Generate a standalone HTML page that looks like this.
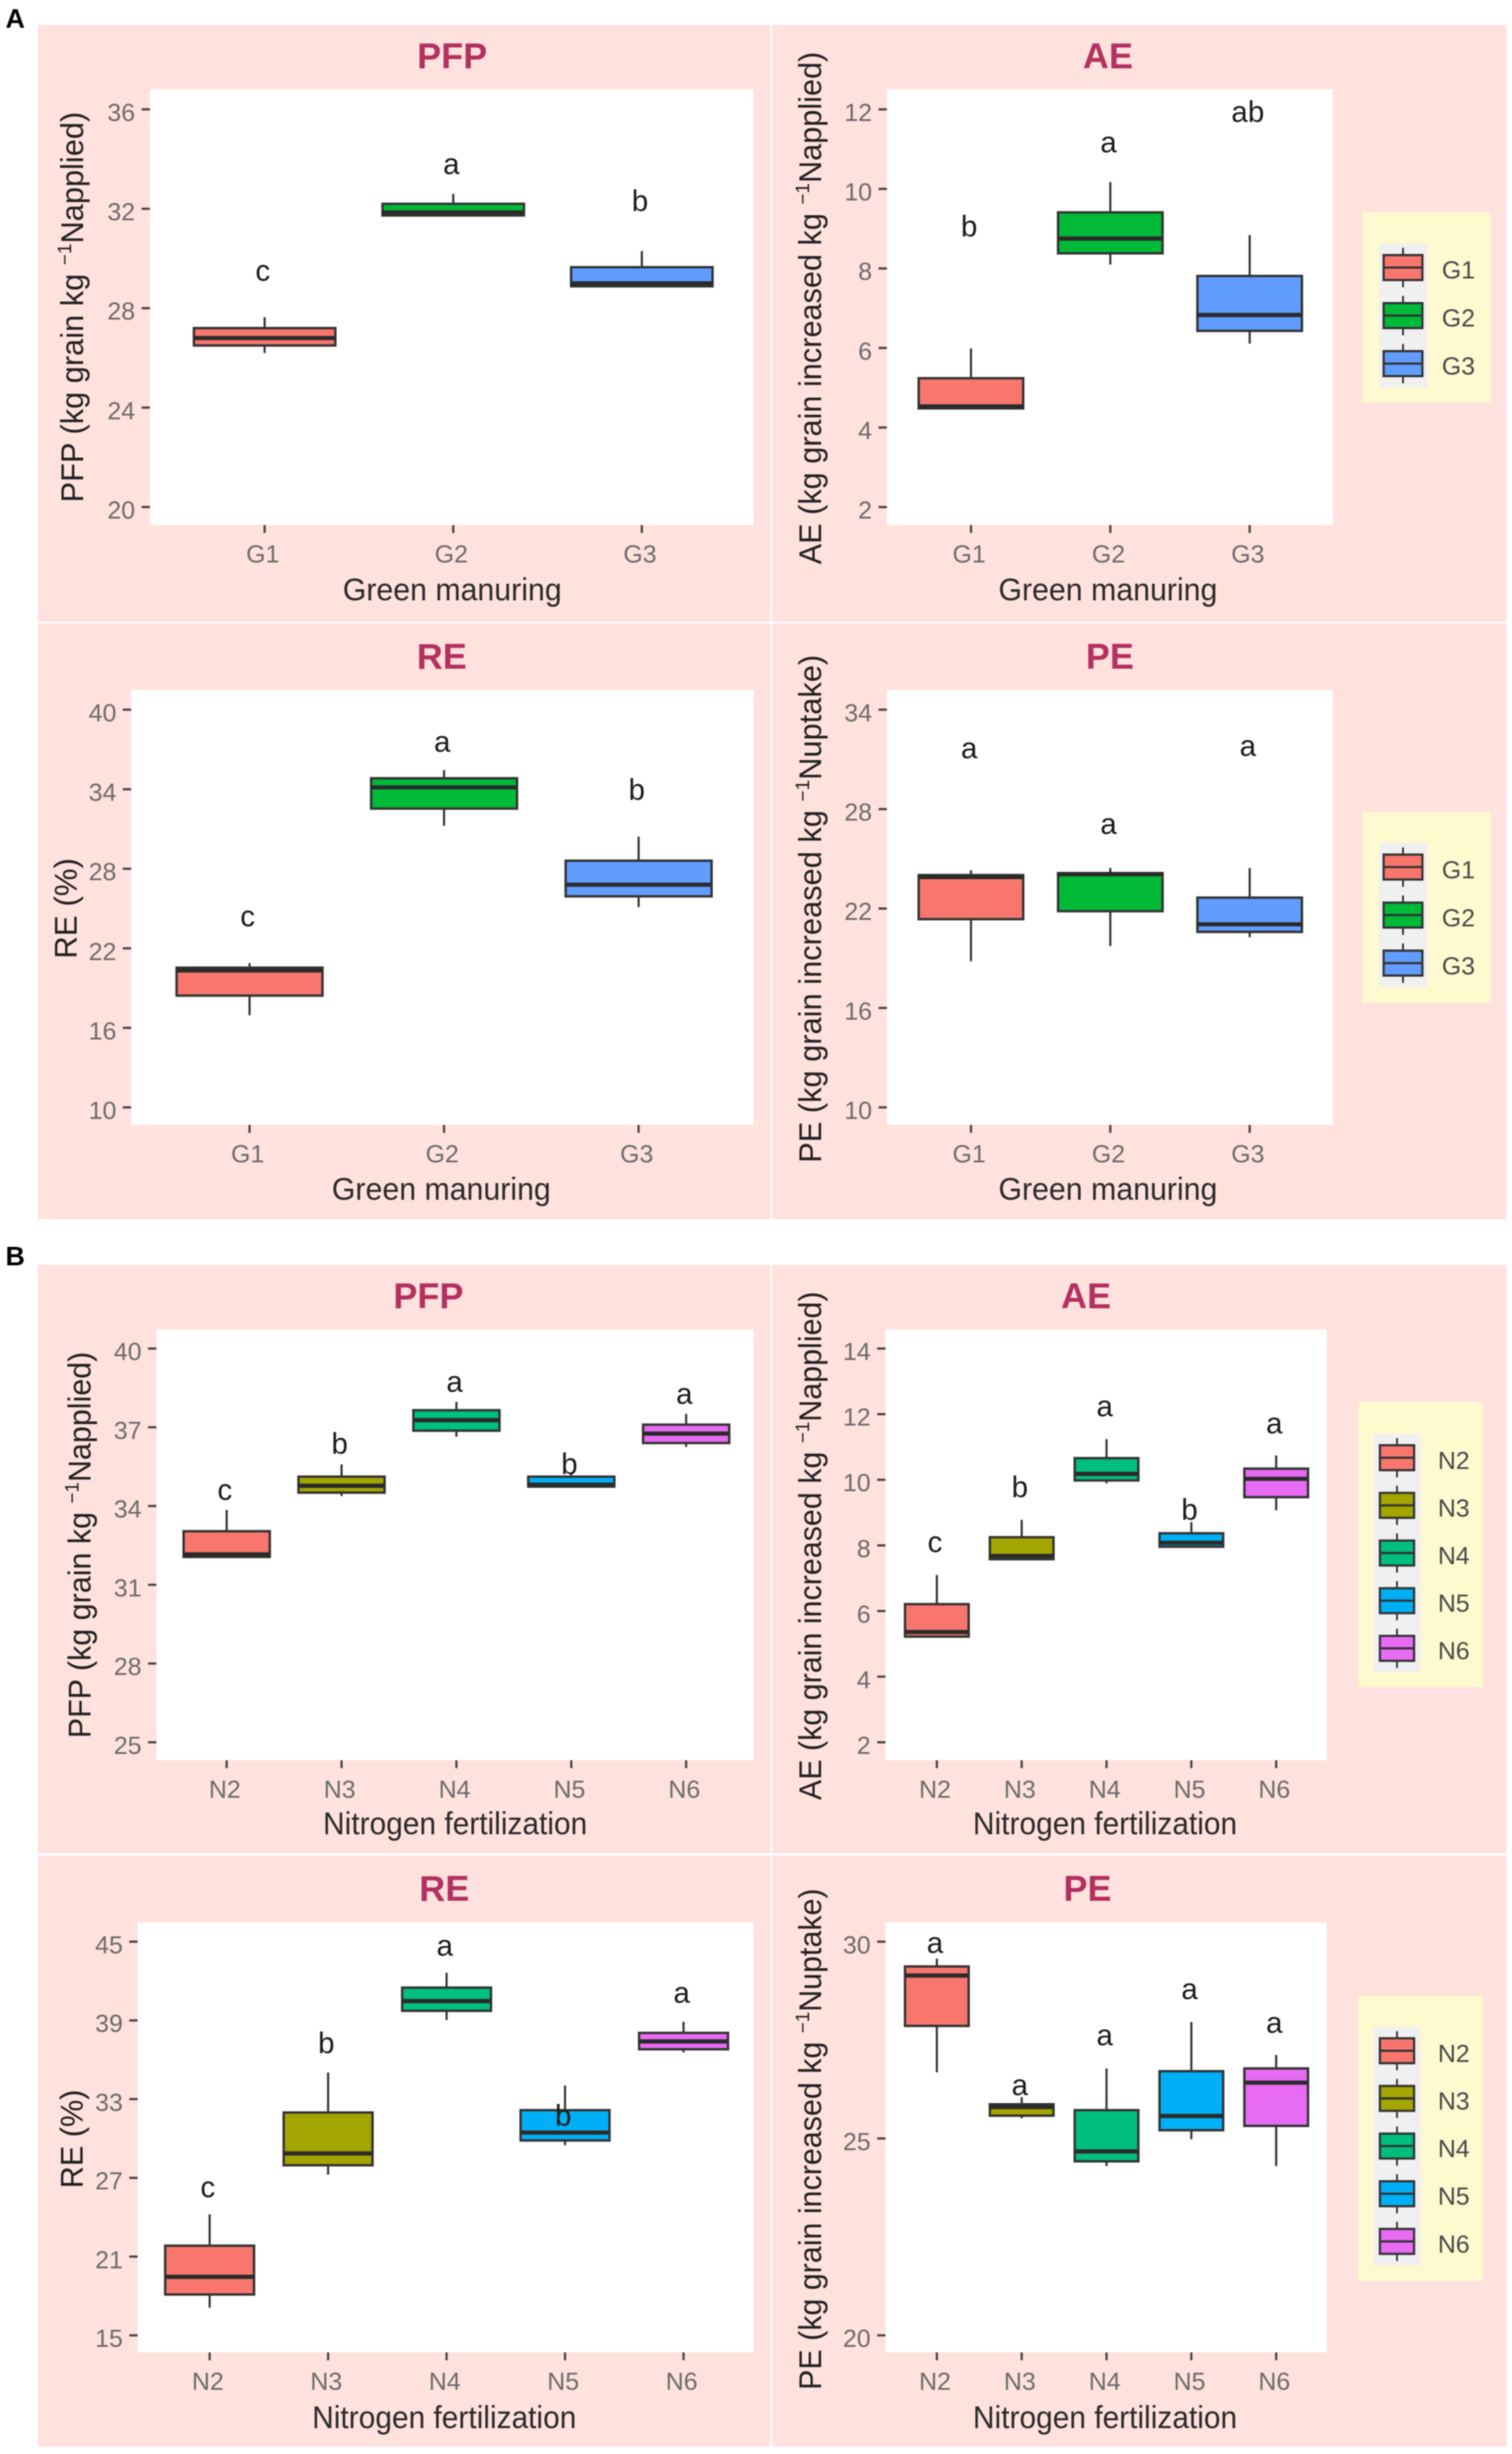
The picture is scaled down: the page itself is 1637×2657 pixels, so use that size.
<!DOCTYPE html>
<html lang="en">
<head>
<meta charset="utf-8">
<title>Nitrogen use efficiency box plots</title>
<style>
html,body{margin:0;padding:0;background:#fff;}
svg{display:block;filter:blur(.6px);font-family:"Liberation Sans",Arial,sans-serif;}
.panel{fill:#FFE1DE;}
.plot{fill:#fff;}
.legend-bg{fill:#FFF9D0;}
.key-bg{fill:#F0F0F0;}
.title{font-size:39px;font-weight:bold;fill:#B3305F;text-anchor:middle;}
.xt{font-size:34px;fill:#2b2b2b;text-anchor:middle;}
.yt{font-size:34px;fill:#222;}
.sup{font-size:21px;}
.tag{font-size:29px;font-weight:bold;fill:#000;}
</style>
</head>
<body>
<svg id="figure" xmlns="http://www.w3.org/2000/svg" width="1637" height="2657" viewBox="0 0 1637 2657">
<rect width="1637" height="2657" fill="#fff"/>
<text class="tag" x="6" y="30">A</text>
<text class="tag" x="6" y="1370">B</text>

<g>
<rect class="panel" x="41" y="27" width="793" height="646"/>
<rect class="plot" x="162.3" y="96.7" width="653.4" height="471.8"/>
<text class="title" x="489.6" y="74">PFP</text>
<text class="xt" x="489.6" y="650" textLength="237" lengthAdjust="spacingAndGlyphs">Green manuring</text>
<text class="yt" transform="translate(90,544) rotate(-90)" textLength="423" lengthAdjust="spacingAndGlyphs">PFP (kg grain kg <tspan class="sup" dy="-13">−1</tspan><tspan dy="13">Napplied)</tspan></text>
<g id="a-pfp"></g>
</g>

<g>
<rect class="panel" x="836" y="27" width="795" height="646"/>
<rect class="plot" x="960.2" y="96.7" width="482.8" height="471.8"/>
<text class="title" x="1199.5" y="74">AE</text>
<text class="xt" x="1199.5" y="650" textLength="237" lengthAdjust="spacingAndGlyphs">Green manuring</text>
<text class="yt" transform="translate(889,611) rotate(-90)" textLength="555" lengthAdjust="spacingAndGlyphs">AE (kg grain increased kg <tspan class="sup" dy="-13">−1</tspan><tspan dy="13">Napplied)</tspan></text>
<rect class="legend-bg" x="1475" y="229.8" width="139" height="206"/>
<rect class="key-bg" x="1493" y="263.7" width="52" height="156"/>
<g id="a-ae"></g>
</g>

<g>
<rect class="panel" x="41" y="675" width="793" height="645"/>
<rect class="plot" x="142" y="747" width="674" height="471"/>
<text class="title" x="478.3" y="724">RE</text>
<text class="xt" x="477.8" y="1299" textLength="237" lengthAdjust="spacingAndGlyphs">Green manuring</text>
<text class="yt" transform="translate(83,1038) rotate(-90)" textLength="109" lengthAdjust="spacingAndGlyphs">RE (%)</text>
<g id="a-re"></g>
</g>

<g>
<rect class="panel" x="836" y="675" width="795" height="645"/>
<rect class="plot" x="960.2" y="747" width="482.8" height="471"/>
<text class="title" x="1201.6" y="724">PE</text>
<text class="xt" x="1199.5" y="1299" textLength="237" lengthAdjust="spacingAndGlyphs">Green manuring</text>
<text class="yt" transform="translate(889,1259) rotate(-90)" textLength="550" lengthAdjust="spacingAndGlyphs">PE (kg grain increased kg <tspan class="sup" dy="-13">−1</tspan><tspan dy="13">Nuptake)</tspan></text>
<rect class="legend-bg" x="1475" y="879" width="139" height="207"/>
<rect class="key-bg" x="1493" y="912.8" width="52" height="156"/>
<g id="a-pe"></g>
</g>

<g>
<rect class="panel" x="41" y="1369.5" width="793" height="637"/>
<rect class="plot" x="169.3" y="1439.3" width="646.7" height="466.6"/>
<text class="title" x="463.8" y="1416.3">PFP</text>
<text class="xt" x="492.8" y="1986" textLength="286" lengthAdjust="spacingAndGlyphs">Nitrogen fertilization</text>
<text class="yt" transform="translate(98,1882) rotate(-90)" textLength="418.5" lengthAdjust="spacingAndGlyphs">PFP (kg grain kg <tspan class="sup" dy="-13">−1</tspan><tspan dy="13">Napplied)</tspan></text>
<g id="b-pfp"></g>
</g>

<g>
<rect class="panel" x="836" y="1369.5" width="795" height="637"/>
<rect class="plot" x="958.7" y="1439.3" width="477.6" height="466.6"/>
<text class="title" x="1175.9" y="1416.3">AE</text>
<text class="xt" x="1196.4" y="1986" textLength="286" lengthAdjust="spacingAndGlyphs">Nitrogen fertilization</text>
<text class="yt" transform="translate(889,1949) rotate(-90)" textLength="550.7" lengthAdjust="spacingAndGlyphs">AE (kg grain increased kg <tspan class="sup" dy="-13">−1</tspan><tspan dy="13">Napplied)</tspan></text>
<rect class="legend-bg" x="1470.8" y="1517.8" width="134.8" height="308.8"/>
<rect class="key-bg" x="1487" y="1552.5" width="51" height="258"/>
<g id="b-ae"></g>
</g>

<g>
<rect class="panel" x="41" y="2009" width="793" height="640"/>
<rect class="plot" x="149" y="2081.5" width="667" height="465.5"/>
<text class="title" x="481" y="2058">RE</text>
<text class="xt" x="481" y="2629" textLength="286" lengthAdjust="spacingAndGlyphs">Nitrogen fertilization</text>
<text class="yt" transform="translate(89.5,2369.4) rotate(-90)" textLength="107" lengthAdjust="spacingAndGlyphs">RE (%)</text>
<g id="b-re"></g>
</g>

<g>
<rect class="panel" x="836" y="2009" width="795" height="640"/>
<rect class="plot" x="958.7" y="2081.5" width="477.6" height="465.5"/>
<text class="title" x="1177.4" y="2058">PE</text>
<text class="xt" x="1196.4" y="2629" textLength="286" lengthAdjust="spacingAndGlyphs">Nitrogen fertilization</text>
<text class="yt" transform="translate(889,2587.6) rotate(-90)" textLength="543" lengthAdjust="spacingAndGlyphs">PE (kg grain increased kg <tspan class="sup" dy="-13">−1</tspan><tspan dy="13">Nuptake)</tspan></text>
<rect class="legend-bg" x="1470.8" y="2160.6" width="134.8" height="308.8"/>
<rect class="key-bg" x="1487" y="2194.6" width="51" height="258"/>
<g id="b-pe"></g>
</g>
</svg>

<script>
// ---------- categories ----------
const greenCategories = ['G1','G2','G3'];
const nitrogenCategories = ['N2','N3','N4','N5','N6'];

// ---------- section A: PFP ----------
const aPfpTicks = [20,24,28,32,36];
const aPfpLow = [26.2,31.73,28.88];
const aPfpQ1 = [26.5,31.73,28.88];
const aPfpMedian = [26.8,31.85,29.0];
const aPfpQ3 = [27.2,32.2,29.65];
const aPfpHigh = [27.64,32.6,30.3];
const aPfpLetters = ['c','a','b'];
const aPfpLetterY = [29.1,33.4,31.9];

// ---------- section A: AE ----------
const aAeTicks = [2,4,6,8,10,12];
const aAeLow = [4.48,8.10,6.11];
const aAeQ1 = [4.48,8.38,6.43];
const aAeMedian = [4.53,8.75,6.83];
const aAeQ3 = [5.24,9.41,7.81];
const aAeHigh = [5.99,10.17,8.84];
const aAeLetters = ['b','a','ab'];
const aAeLetterY = [8.81,10.92,11.68];

// ---------- section A: RE ----------
const aReTicks = [10,16,22,28,34,40];
const aReLow = [16.95,31.24,25.11];
const aReQ1 = [18.43,32.54,25.92];
const aReMedian = [20.33,34.14,26.8];
const aReQ3 = [20.54,34.83,28.61];
const aReHigh = [20.88,35.44,30.42];
const aReLetters = ['c','a','b'];
const aReLetterY = [23.66,36.83,33.2];

// ---------- section A: PE ----------
const aPeTicks = [10,16,22,28,34];
const aPeLow = [18.82,19.74,20.27];
const aPeQ1 = [21.36,21.84,20.59];
const aPeMedian = [23.9,24.07,21.05];
const aPeQ3 = [24.02,24.14,22.66];
const aPeHigh = [24.31,24.45,24.45];
const aPeLetters = ['a','a','a'];
const aPeLetterY = [31.08,26.5,31.2];

// ---------- section B: PFP ----------
const bPfpTicks = [25,28,31,34,37,40];
const bPfpLow = [32.06,34.38,36.64,34.74,36.25];
const bPfpQ1 = [32.06,34.51,36.87,34.74,36.4];
const bPfpMedian = [32.16,34.77,37.27,34.81,36.76];
const bPfpQ3 = [33.04,35.12,37.65,35.12,37.1];
const bPfpHigh = [33.85,35.59,37.97,35.22,37.51];
const bPfpLetters = ['c','b','a','b','a'];
const bPfpLetterY = [34.23,35.99,38.35,35.22,37.89];

// ---------- section B: AE ----------
const bAeTicks = [2,4,6,8,10,12,14];
const bAeLow = [5.22,7.58,9.89,7.96,9.07];
const bAeQ1 = [5.22,7.58,9.98,7.96,9.47];
const bAeMedian = [5.36,7.68,10.18,8.08,10.03];
const bAeQ3 = [6.21,8.25,10.66,8.37,10.34];
const bAeHigh = [7.1,8.78,11.24,8.71,10.74];
const bAeLetters = ['c','b','a','b','a'];
const bAeLetterY = [7.8,9.47,11.94,8.78,11.42];

// ---------- section B: RE ----------
const bReTicks = [15,21,27,33,39,45];
const bReLow = [17.1,27.25,39.04,29.49,36.56];
const bReQ1 = [18.11,27.96,39.73,29.85,36.8];
const bReMedian = [19.46,28.86,40.48,30.45,37.4];
const bReQ3 = [21.83,31.98,41.5,32.16,38.05];
const bReHigh = [24.22,35.03,42.63,34.04,38.89];
const bReLetters = ['c','b','a','b','a'];
const bReLetterY = [25.51,36.5,43.92,30.99,40.33];

// ---------- section B: PE ----------
const bPeTicks = [20,25,30];
const bPeLow = [26.68,25.51,24.3,24.98,24.3];
const bPeQ1 = [27.86,25.58,24.42,25.21,25.32];
const bPeMedian = [29.14,25.8,24.67,25.57,26.42];
const bPeQ3 = [29.37,25.87,25.72,26.71,26.78];
const bPeHigh = [29.57,26.05,26.78,27.96,27.12];
const bPeLetters = ['a','a','a','a','a'];
const bPeLetterY = [29.71,26.1,27.37,28.54,27.69];

const greenColors = ['#F8766D','#00BA38','#619CFF'];
const nitrogenColors = ['#F8766D','#A3A500','#00BF7D','#00B0F6','#E76BF3'];

const SVG_NS = 'http://www.w3.org/2000/svg';

function makeEl(parent, tag, props, text) {
  const el = document.createElementNS(SVG_NS, tag);
  for (const k in props) el.setAttribute(k, props[k]);
  if (text !== undefined) el.textContent = text;
  parent.appendChild(el);
  return el;
}

function linearScale(d0, d1, r0, r1) {
  return function (v) { return r0 + (v - d0) * (r1 - r0) / (d1 - d0); };
}

function drawBoxPlot(cfg) {
  const root = document.getElementById(cfg.id);
  const n = cfg.categories.length;
  const unit = (cfg.right - cfg.left) / (n + 0.2);
  const xAt = function (i) { return cfg.left + (i + 0.6) * unit + cfg.nudge; };
  const t0 = cfg.ticks[0];
  const t1 = cfg.ticks[cfg.ticks.length - 1];
  const yAt = linearScale(t0, t1, cfg.tickBottomPx, cfg.tickTopPx);

  cfg.ticks.forEach(function (t) {
    const mark = makeEl(root, 'line', {x1: cfg.left - 9, x2: cfg.left, y1: yAt(t), y2: yAt(t), stroke: '#444', 'stroke-width': 2.4});
    
    
    const label = makeEl(root, 'text', {x: cfg.left - 16, y: yAt(t) + 12.5, 'text-anchor': 'end', 'font-size': 27, fill: '#6c6c6c'}, String(t));
    
    
  });

  cfg.categories.forEach(function (c, i) {
    const x = xAt(i);
    const mark = makeEl(root, 'line', {x1: x, x2: x, y1: cfg.bottom, y2: cfg.bottom + 8.5, stroke: '#444', 'stroke-width': 2.4});
    
    
    const label = makeEl(root, 'text', {x: x - 2, y: cfg.bottom + 40.5, 'text-anchor': 'middle', 'font-size': 27, fill: '#6c6c6c'}, c);
    
    

    const whisker = makeEl(root, 'line', {x1: x, x2: x, y1: yAt(cfg.high[i]), y2: yAt(cfg.low[i]), stroke: '#333', 'stroke-width': 2.3});
    
    
    const w = unit * 0.75;
    const box = makeEl(root, 'rect', {x: x - w / 2, width: w, y: yAt(cfg.q3[i]), height: yAt(cfg.q1[i]) - yAt(cfg.q3[i]), fill: cfg.colors[i], stroke: '#333', 'stroke-width': 2.6});
    
    
    const median = makeEl(root, 'line', {x1: x - w / 2, x2: x + w / 2, y1: yAt(cfg.median[i]), y2: yAt(cfg.median[i]), stroke: '#2b2b2b', 'stroke-width': 4.6});
    
    
    const letter = makeEl(root, 'text', {x: x - 2, y: yAt(cfg.letterY[i]), 'text-anchor': 'middle', 'font-size': 32, fill: '#1c1c1c'}, cfg.letters[i]);
    
    
  });

  if (cfg.legend) {
    const L = cfg.legend;
    cfg.categories.forEach(function (c, i) {
      const cy = L.top + (i + 0.5) * L.step;
      const cx = L.left + L.width / 2;
      const whisker = makeEl(root, 'line', {x1: cx, x2: cx, y1: cy - L.step * 0.41, y2: cy + L.step * 0.41, stroke: '#333', 'stroke-width': 2});
      
      
      const box = makeEl(root, 'rect', {x: L.left + L.inset, width: L.width - 2 * L.inset, y: cy - 13.5, height: 27, fill: cfg.colors[i], stroke: '#333', 'stroke-width': 2.4});
      
      
      const median = makeEl(root, 'line', {x1: L.left + L.inset, x2: L.left + L.width - L.inset, y1: cy, y2: cy, stroke: '#333', 'stroke-width': 2.4});
      
      
      const label = makeEl(root, 'text', {x: L.labelX, y: cy + 12, 'font-size': 27, fill: '#4a4a4a'}, c);
      
      
    });
  }
}

drawBoxPlot({id:'a-pfp', left:162.3, right:815.7, bottom:568.5, tickTopPx:118.4, tickBottomPx:549, nudge:1.7,
  categories:greenCategories, colors:greenColors, ticks:aPfpTicks,
  low:aPfpLow, q1:aPfpQ1, median:aPfpMedian, q3:aPfpQ3, high:aPfpHigh, letters:aPfpLetters, letterY:aPfpLetterY});

drawBoxPlot({id:'a-ae', left:960.2, right:1443, bottom:568.5, tickTopPx:118.4, tickBottomPx:549, nudge:0.5,
  categories:greenCategories, colors:greenColors, ticks:aAeTicks,
  low:aAeLow, q1:aAeQ1, median:aAeMedian, q3:aAeQ3, high:aAeHigh, letters:aAeLetters, letterY:aAeLetterY,
  legend:{top:263.7, step:52, left:1493, width:52, inset:5, labelX:1561}});

drawBoxPlot({id:'a-re', left:142, right:816, bottom:1218, tickTopPx:768.4, tickBottomPx:1199, nudge:1.8,
  categories:greenCategories, colors:greenColors, ticks:aReTicks,
  low:aReLow, q1:aReQ1, median:aReMedian, q3:aReQ3, high:aReHigh, letters:aReLetters, letterY:aReLetterY});

drawBoxPlot({id:'a-pe', left:960.2, right:1443, bottom:1218, tickTopPx:768.4, tickBottomPx:1199, nudge:0.5,
  categories:greenCategories, colors:greenColors, ticks:aPeTicks,
  low:aPeLow, q1:aPeQ1, median:aPeMedian, q3:aPeQ3, high:aPeHigh, letters:aPeLetters, letterY:aPeLetterY,
  legend:{top:912.8, step:52, left:1493, width:52, inset:5, labelX:1561}});

drawBoxPlot({id:'b-pfp', left:169.3, right:816, bottom:1905.9, tickTopPx:1460.1, tickBottomPx:1886.4, nudge:1.5,
  categories:nitrogenCategories, colors:nitrogenColors, ticks:bPfpTicks,
  low:bPfpLow, q1:bPfpQ1, median:bPfpMedian, q3:bPfpQ3, high:bPfpHigh, letters:bPfpLetters, letterY:bPfpLetterY});

drawBoxPlot({id:'b-ae', left:958.7, right:1436.3, bottom:1905.9, tickTopPx:1460.1, tickBottomPx:1886.4, nudge:0.5,
  categories:nitrogenCategories, colors:nitrogenColors, ticks:bAeTicks,
  low:bAeLow, q1:bAeQ1, median:bAeMedian, q3:bAeQ3, high:bAeHigh, letters:bAeLetters, letterY:bAeLetterY,
  legend:{top:1552.5, step:51.6, left:1487, width:51, inset:7, labelX:1556.7}});

drawBoxPlot({id:'b-re', left:149, right:816, bottom:2547, tickTopPx:2102.3, tickBottomPx:2528.5, nudge:1,
  categories:nitrogenCategories, colors:nitrogenColors, ticks:bReTicks,
  low:bReLow, q1:bReQ1, median:bReMedian, q3:bReQ3, high:bReHigh, letters:bReLetters, letterY:bReLetterY});

drawBoxPlot({id:'b-pe', left:958.7, right:1436.3, bottom:2547, tickTopPx:2102.3, tickBottomPx:2528.5, nudge:0.5,
  categories:nitrogenCategories, colors:nitrogenColors, ticks:bPeTicks,
  low:bPeLow, q1:bPeQ1, median:bPeMedian, q3:bPeQ3, high:bPeHigh, letters:bPeLetters, letterY:bPeLetterY,
  legend:{top:2194.6, step:51.6, left:1487, width:51, inset:7, labelX:1556.7}});
</script>
</body>
</html>
